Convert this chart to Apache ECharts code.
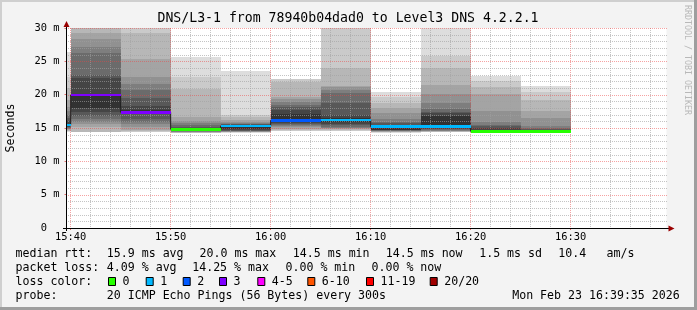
<!DOCTYPE html>
<html><head><meta charset="utf-8">
<script src="https://cdn.jsdelivr.net/npm/echarts@6/dist/echarts.min.js"></script>
<style>html,body{margin:0;padding:0;background:#f3f3f3}#c{width:697px;height:310px}</style>
</head><body><div id="c"></div>
<script>
// ---------------- data ----------------
const titleText = 'DNS/L3-1 from 78940b04dad0 to Level3 DNS 4.2.2.1';
const viewStart = '15:39:35';
const viewEnd = '16:39:35';
const stepSeconds = 300;
const intervalStarts = ['15:35','15:40','15:45','15:50','15:55','16:00','16:05','16:10','16:15','16:20','16:25'];
const medianMs = [15.45, 19.95, 17.35, 14.8, 15.3, 16.15, 16.2, 15.2, 15.2, 14.5, 14.5];
const lostPings = [1, 3, 3, 0, 1, 2, 1, 1, 1, 0, 0];
// 20 sorted ping slots per interval (null = lost)
const pingsMs = [
  [14.4,14.5,14.6,14.7,14.8,14.9,15.0,15.1,15.2,15.3,15.6,16.0,16.5,17.0,17.5,18.2,19.2,21.0,22.7,26.45],
  [null,null,14.45,15.2,15.55,15.95,16.4,16.85,17.4,17.95,19.95,22.45,22.95,26.2,27.2,28.35,29.2,31.5,34.0,null],
  [null,14.35,14.55,14.7,15.2,15.6,15.85,16.35,17.15,17.4,17.75,18.3,19.5,20.7,21.6,22.6,25.3,29.2,31.0,null],
  [14.2,14.25,14.3,14.35,14.4,14.45,14.5,14.55,14.6,14.65,14.75,14.95,15.2,15.45,15.7,16.1,16.6,20.8,22.6,25.7],
  [14.3,14.33,14.36,14.4,14.45,14.5,14.55,14.6,14.75,14.9,15.3,15.5,15.6,15.65,15.7,15.95,16.2,16.6,16.95,23.6],
  [null,14.55,14.7,14.85,15.2,15.3,15.45,15.6,15.8,16.0,17.05,17.7,18.2,18.5,18.85,19.35,19.7,21.95,22.35,null],
  [null,14.55,14.7,14.85,14.95,15.05,15.2,15.4,15.6,15.85,16.45,16.95,18.75,20.3,20.7,21.1,21.3,24.0,33.0,36.0],
  [14.3,14.35,14.4,14.45,14.5,14.55,14.6,14.65,14.7,14.75,15.25,15.45,15.7,15.95,16.4,17.2,18.05,18.7,19.6,20.4],
  [14.35,14.4,14.45,14.5,14.55,14.6,14.7,14.8,14.9,15.0,16.85,17.2,17.4,17.8,18.8,20.05,21.45,23.95,25.85,32.0],
  [14.3,14.32,14.34,14.36,14.38,14.4,14.42,14.44,14.46,14.5,14.7,15.05,15.3,15.5,15.95,17.55,20.05,21.2,22.1,22.85],
  [14.3,14.32,14.34,14.36,14.38,14.4,14.42,14.44,14.46,14.5,14.6,14.7,14.8,14.95,15.3,16.45,17.55,19.2,20.45,21.3]
];
const yMin = 0, yMax = 30, yStep = 5, yMinorStep = 1;
const xTickLabels = ['15:40','15:50','16:00','16:10','16:20','16:30'];
const xMinorStepSec = 120, xMajorStepSec = 600;
const lossLabels = ['0','1','2','3','4-5','6-10','11-19','20/20'];
const lossUpper  = [0, 1, 2, 3, 5, 10, 19, 20];
const lossColors = ['#26ff00','#00b8ff','#0059ff','#7e00ff','#ff00ff','#ff5500','#ff0000','#a10000'];
const rttStats = ['15.9 ms avg','20.0 ms max','14.5 ms min','14.5 ms now','1.5 ms sd','10.4','am/s'];
const lossStats = ['4.09 % avg','14.25 % max','0.00 % min','0.00 % now'];
const probeText = '20 ICMP Echo Pings (56 Bytes) every 300s';
const stampText = 'Mon Feb 23 16:39:35 2026';

// ---------------- layout / style ----------------
const MONO = '"DejaVu Sans Mono", monospace';
const LFONT = '11.6px ' + MONO;
const rttX = [107.3, 200, 293.3, 386.3, 479.7, 558.7, 607];
const lossX = [107.3, 192.7, 286, 372];
const boxX = [108, 145.7, 182.7, 219, 257.3, 307.3, 366, 429.7];
const rowY = [254, 268, 282, 296];
const GRID_MINOR = 'rgba(160,160,160,0.62)';
const GRID_MAJOR = 'rgba(235,70,70,0.5)';
const ARROW = '#9a0000';

function toSec(s){ const p = s.split(':').map(Number); return p[0]*3600 + p[1]*60 + (p[2]||0); }
function fmt(v){ const h = Math.floor(v/3600), m = Math.floor((v%3600)/60); return String(h).padStart(2,'0')+':'+String(m).padStart(2,'0'); }
function lossColor(n){ for (let i=0;i<lossUpper.length;i++) if (n <= lossUpper[i]) return lossColors[i]; return lossColors[lossColors.length-1]; }

const xMin = toSec(viewStart), xMax = toSec(viewEnd);
const majorTicks = xTickLabels.map(toSec);
const vGrid = [];
for (let t = majorTicks[0]; t < xMax; t += xMinorStepSec) vGrid.push([t, yMin]);
const hGrid = [];
for (let v = yMin + yMinorStep; v <= yMax; v += yMinorStep) hGrid.push([xMin, v]);

const smokeData = intervalStarts.map((s,i)=>[toSec(s), toSec(s)+stepSeconds, i]);
const medData = intervalStarts.map((s,i)=>[toSec(s), toSec(s)+stepSeconds, medianMs[i], lostPings[i]]);
const stepData = intervalStarts.map((s,i)=>[toSec(s), medianMs[i]]);
stepData.push([toSec(intervalStarts[intervalStarts.length-1])+stepSeconds, medianMs[medianMs.length-1]]);

function snapRect(a, b, cs){
  const r = echarts.graphic.clipRectByRect({x:a[0], y:a[1], width:b[0]-a[0], height:b[1]-a[1]}, cs);
  if (!r) return null;
  const x0 = Math.round(r.x), x1 = Math.round(r.x + r.width);
  const y0 = Math.round(r.y), y1 = Math.round(r.y + r.height);
  return {x:x0, y:y0, width:x1-x0, height:Math.max(y1-y0, 0)};
}

function txt(x, y, text, extra){
  return Object.assign({type:'text', x:x, y:y, silent:true,
    style:{text:text, font:LFONT, fill:'#000', align:'left', verticalAlign:'middle', textAlign:'left', textVerticalAlign:'middle'}}, extra||{});
}
const graphics = [
  {type:'rect', shape:{x:0,y:0,width:697,height:2}, style:{fill:'#cfcfcf'}, silent:true},
  {type:'rect', shape:{x:0,y:0,width:2,height:310}, style:{fill:'#cfcfcf'}, silent:true},
  {type:'rect', shape:{x:0,y:307,width:697,height:3}, style:{fill:'#9e9e9e'}, silent:true},
  {type:'rect', shape:{x:694,y:0,width:3,height:310}, style:{fill:'#9e9e9e'}, silent:true},
  {type:'text', x:348, y:19, silent:true, style:{text:titleText, font:'13.2px '+MONO, fill:'#000', align:'center', verticalAlign:'middle', textAlign:'center', textVerticalAlign:'middle'}},
  {type:'text', x:687.5, y:5, rotation:-Math.PI/2, silent:true, style:{text:'RRDTOOL / TOBI OETIKER', font:'8.3px '+MONO, fill:'#b8b8b8', align:'left', verticalAlign:'middle', textAlign:'left', textVerticalAlign:'middle'}},
  {type:'rect', z:100, silent:true, shape:{x:66, y:22, width:1, height:209}, style:{fill:'#000'}},
  {type:'rect', z:100, silent:true, shape:{x:63, y:228, width:606, height:1}, style:{fill:'#000'}},
  {type:'polygon', z:101, silent:true, shape:{points:[[63.5,27],[69.5,27],[66.5,21]]}, style:{fill:ARROW}},
  {type:'polygon', z:101, silent:true, shape:{points:[[668.5,225.5],[668.5,231.5],[674.5,228.5]]}, style:{fill:ARROW}},
  txt(15.5, rowY[0], 'median rtt:'),
  txt(15.5, rowY[1], 'packet loss:'),
  txt(15.5, rowY[2], 'loss color:'),
  txt(15.5, rowY[3], 'probe:'),
  txt(106.8, rowY[3], probeText),
  txt(512.2, rowY[3], stampText)
];
rttStats.forEach((s,i)=>graphics.push(txt(rttX[i]-0.5, rowY[0], s)));
lossStats.forEach((s,i)=>graphics.push(txt(lossX[i]-0.5, rowY[1], s)));
lossLabels.forEach((s,i)=>{
  graphics.push({type:'rect', silent:true, shape:{x:boxX[i]+0.5, y:rowY[2]-4.5, width:7, height:8}, style:{fill:lossColors[i], stroke:'#000', lineWidth:1}});
  graphics.push(txt(boxX[i]+14.5, rowY[2], s));
});

const chart = echarts.init(document.getElementById('c'), null, {renderer:'canvas'});
chart.setOption({
  animation:false,
  backgroundColor:'#f3f3f3',
  grid:{left:66.5, top:28, width:600, height:200, show:true, backgroundColor:'#ffffff', borderWidth:0,
        containLabel:false, outerBoundsMode:'none'},
  xAxis:{
    type:'value', min:xMin, max:xMax, z:6,
    axisLine:{show:false},
    axisTick:{show:true, customValues:majorTicks, length:2, lineStyle:{color:'#e07070'}},
    axisLabel:{show:true, customValues:majorTicks, formatter:v=>fmt(v), fontFamily:'DejaVu Sans Mono', fontSize:10.4, color:'#000', margin:4},
    splitLine:{show:false}
  },
  yAxis:{
    type:'value', min:yMin, max:yMax, interval:yStep, z:6,
    name:'Seconds', nameLocation:'middle', nameGap:49.5, nameRotate:90,
    nameTextStyle:{fontFamily:'DejaVu Sans Mono', fontSize:11.6, color:'#000'},
    axisLine:{show:false},
    axisTick:{show:true, length:2, lineStyle:{color:'#e07070'}},
    axisLabel:{formatter:v=> v===0 ? '0  ' : v+' m', fontFamily:'DejaVu Sans Mono', fontSize:10.4, color:'#000', margin:7},
    splitLine:{show:false},
    minorSplitLine:{show:false}
  },
  series:[
    { type:'custom', z:1, silent:true, data:smokeData,
      renderItem(params, api){
        const p = pingsMs[api.value(2)];
        const x0 = api.value(0), x1 = api.value(1);
        const children = [];
        for (let k=0;k<10;k++){
          const lo = p[k], hi = p[19-k];
          if (lo==null || hi==null) continue;
          const r = snapRect(api.coord([x0, hi]), api.coord([x1, lo]), params.coordSys);
          if (!r || r.width<=0 || r.height<=0) continue;
          const g = 50 + 19*(9-k);
          children.push({type:'rect', shape:r, style:{fill:'rgb('+g+','+g+','+g+')'}});
        }
        return {type:'group', children:children};
      }
    },
    // vertical dotted grid lines (every 2 min, red every 10 min)
    { type:'custom', z:3, silent:true, data:vGrid,
      renderItem(params, api){
        const t = api.value(0);
        const a = api.coord([t, yMin]), b = api.coord([t, yMax]);
        const x = Math.floor(a[0]);
        const fill = (t % xMajorStepSec === 0) ? GRID_MAJOR : GRID_MINOR;
        const kids = [];
        for (let y = Math.round(b[1]); y < Math.round(a[1]); y += 2) kids.push({type:'rect', shape:{x:x, y:y, width:1, height:1}, style:{fill:fill}});
        return {type:'group', children:kids};
      }
    },
    // horizontal dotted grid lines (every 1 ms, red every 5 ms)
    { type:'custom', z:3, silent:true, data:hGrid,
      renderItem(params, api){
        const v = api.value(1);
        const a = api.coord([xMin, v]), b = api.coord([xMax, v]);
        const y = Math.round(a[1]);
        const fill = (v % yStep === 0) ? GRID_MAJOR : GRID_MINOR;
        const kids = [];
        for (let x = Math.round(a[0]) + 1; x < Math.round(b[0]); x += 2) kids.push({type:'rect', shape:{x:x, y:y, width:1, height:1}, style:{fill:fill}});
        return {type:'group', children:kids};
      }
    },
    { type:'line', z:4, step:'end', symbol:'none', silent:true, data:stepData,
      lineStyle:{color:'#202020', width:1} },
    { type:'custom', z:5, silent:true, data:medData,
      renderItem(params, api){
        const m = api.value(2);
        const r = snapRect(api.coord([api.value(0), m+0.2]), api.coord([api.value(1), m-0.2]), params.coordSys);
        if (!r || r.width<=0) return null;
        return {type:'rect', shape:r, style:{fill:lossColor(api.value(3))}};
      }
    }
  ],
  graphic:graphics
});
</script></body></html>
